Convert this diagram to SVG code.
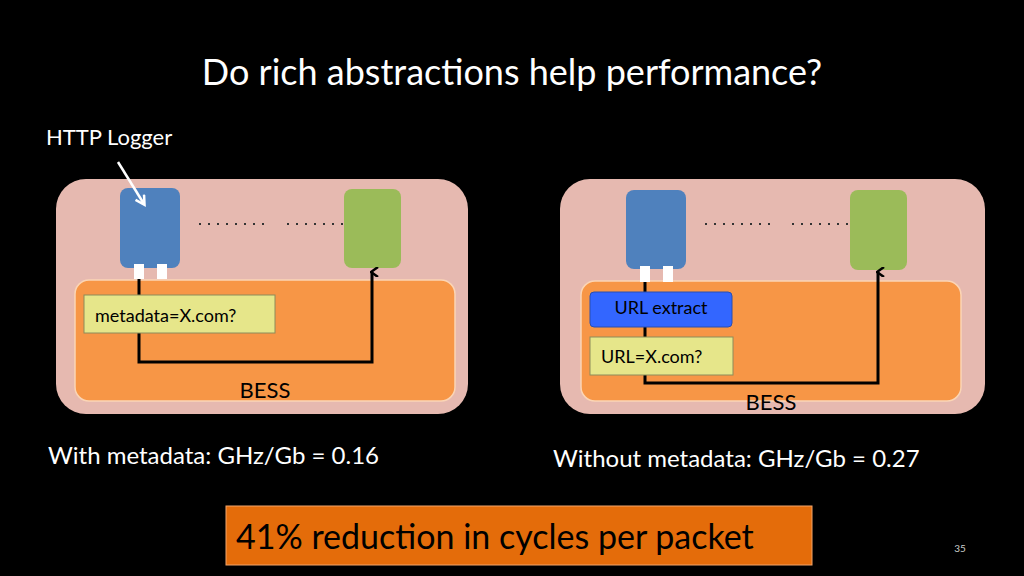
<svg xmlns="http://www.w3.org/2000/svg" width="1024" height="576" viewBox="0 0 1024 576">
<defs>
<marker id="ah" markerWidth="10" markerHeight="10" refX="5" refY="2" orient="auto" markerUnits="userSpaceOnUse" viewBox="0 0 10 10"><path d="M0,8 L5,1 L10,8" fill="none" stroke="#000" stroke-width="2.5"/></marker>
<marker id="wh" markerWidth="12" markerHeight="12" refX="9" refY="5" orient="auto" markerUnits="userSpaceOnUse" viewBox="0 0 12 10"><path d="M1,0 L10,5 L1,10" fill="none" stroke="#fff" stroke-width="2.5"/></marker>
</defs>
<style>
text{font-family:Lato,"Open Sans","Liberation Sans",sans-serif}
.outer{fill:#e6b9b0}
.inner{fill:#f79646;stroke:#fbd5b5;stroke-width:1.5}
.blue{fill:#4f81bd}
.green{fill:#9bbb59}
.sq{fill:#fff}
.yel{fill:#e6e68a;stroke:#8c8c5a;stroke-width:1}
.line{fill:none;stroke:#000;stroke-width:3}
.dots{stroke:#333;stroke-width:2;stroke-dasharray:2 7}
</style>
<rect width="1024" height="576" fill="#000"/>
<text x="512" y="85" font-size="36" fill="#fff" text-anchor="middle">Do rich abstractions help performance?</text>
<text x="46" y="145" font-size="22" fill="#fff">HTTP Logger</text>

<g id="left">
<rect class="outer" x="56" y="179" width="412" height="235" rx="30"/>
<rect class="inner" x="75" y="280" width="380" height="121" rx="14"/>
<rect class="blue" x="120" y="188" width="60" height="80" rx="8"/>
<rect class="green" x="344" y="189" width="57" height="79" rx="8"/>
<rect class="sq" x="134" y="264" width="10" height="15"/>
<rect class="sq" x="157" y="264" width="10" height="15"/>
<line class="dots" x1="199" y1="224" x2="270" y2="224"/>
<line class="dots" x1="287" y1="224" x2="344" y2="224"/>
<text x="265" y="398" font-size="22" fill="#000" text-anchor="middle">BESS</text>
</g>
<g id="right">
<rect class="outer" x="560" y="179" width="425" height="235" rx="30"/>
<rect class="inner" x="581" y="281" width="380" height="120" rx="14"/>
<rect class="blue" x="626" y="190" width="60" height="79" rx="8"/>
<rect class="green" x="850" y="190" width="57" height="80" rx="8"/>
<rect class="sq" x="640" y="266" width="10" height="16"/>
<rect class="sq" x="663" y="266" width="10" height="16"/>
<line class="dots" x1="705" y1="224" x2="775" y2="224"/>
<line class="dots" x1="792" y1="224" x2="850" y2="224"/>
<text x="771" y="410" font-size="22" fill="#000" text-anchor="middle">BESS</text>
</g>
<g id="connectors">
<line x1="118" y1="162" x2="144" y2="204" stroke="#fff" stroke-width="2.5" marker-end="url(#wh)"/>
<path class="line" d="M139,279 V362 H372 V272" marker-end="url(#ah)"/>
<path class="line" d="M645,282 V383 H878 V272" marker-end="url(#ah)"/>
</g>
<g id="metadata">
<rect class="yel" x="84" y="295" width="191" height="38"/>
<text x="95" y="322" font-size="18" fill="#000">metadata=X.com?</text>
</g>
<g id="urlextract">
<rect x="590" y="292" width="142" height="35" rx="4" fill="#3366ff" stroke="#2a4fb0"/>
<text x="661" y="314" font-size="18" fill="#000" text-anchor="middle">URL extract</text>
</g>
<g id="urlx">
<rect class="yel" x="590" y="337" width="143" height="38"/>
<text x="601" y="363" font-size="18" fill="#000">URL=X.com?</text>
</g>
<text x="48" y="464" font-size="24" fill="#fff">With metadata: GHz/Gb = 0.16</text>
<text x="553" y="467" font-size="24" fill="#fff">Without metadata: GHz/Gb = 0.27</text>
<g id="result">
<rect x="226" y="506" width="586" height="59" fill="#e46c0a" stroke="#f3a56b" stroke-width="1"/>
<text x="236" y="549" font-size="34" fill="#000">41% reduction in cycles per packet</text>
</g>
<text x="960" y="552" font-size="10" fill="#ccc" text-anchor="middle">35</text>
</svg>
